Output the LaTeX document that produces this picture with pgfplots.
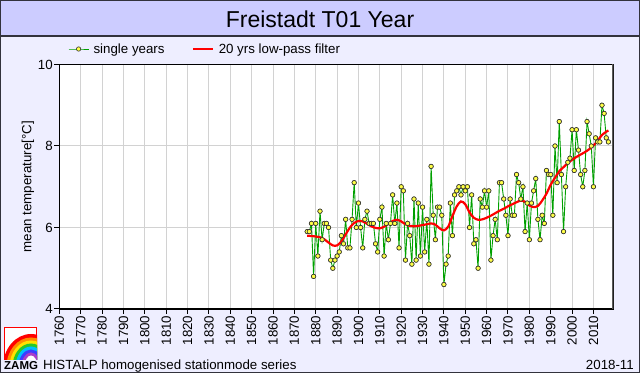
\documentclass[border=0pt]{standalone}
\usepackage{pgfplots}
\pgfplotsset{compat=1.18}
\usepackage{pgfplotstable}
\usepackage{fontspec}
\setmainfont{Liberation Sans}
\definecolor{titlebg}{RGB}{204,204,255}
\definecolor{pagebg}{RGB}{238,238,255}
\definecolor{gridc}{RGB}{210,210,210}
\definecolor{lineg}{RGB}{0,160,0}
\definecolor{marky}{RGB}{255,255,70}
\definecolor{markd}{RGB}{50,50,50}
\definecolor{redc}{RGB}{255,0,0}
\definecolor{framec}{RGB}{50,50,60}
\definecolor{rightc}{RGB}{90,90,90}
\definecolor{rbOrange}{RGB}{255,140,0}
\definecolor{rbYellow}{RGB}{255,225,0}
\definecolor{rbGreen}{RGB}{40,200,40}
\definecolor{rbCyan}{RGB}{0,190,255}
\definecolor{rbBlue}{RGB}{60,60,255}
\definecolor{rbViolet}{RGB}{170,60,200}

\pgfplotstableread{
year t
1876 5.9
1877 5.9
1878 6.1
1879 4.8
1880 6.1
1881 5.3
1882 6.4
1883 5.7
1884 6.1
1885 6.1
1886 6.0
1887 5.2
1888 5.0
1889 5.2
1890 5.3
1891 5.4
1892 5.8
1893 5.6
1894 6.2
1895 5.5
1896 5.5
1897 6.2
1898 7.1
1899 6.0
1900 6.6
1901 6.0
1902 5.5
1903 6.2
1904 6.4
1905 6.1
1906 6.1
1907 6.1
1908 5.6
1909 5.4
1910 6.2
1911 6.5
1912 5.3
1913 6.1
1914 5.7
1915 6.1
1916 6.8
1917 6.1
1918 6.6
1919 5.5
1920 7.0
1921 6.9
1922 5.2
1923 6.1
1924 5.8
1925 5.1
1926 6.7
1927 5.2
1928 6.6
1929 5.3
1930 6.5
1931 5.4
1932 6.2
1933 5.1
1934 7.5
1935 6.3
1936 5.7
1937 6.5
1938 6.5
1939 6.3
1940 4.6
1941 5.1
1942 5.3
1943 6.6
1944 5.8
1945 6.8
1946 6.9
1947 7.0
1948 6.8
1949 7.0
1950 6.9
1951 7.0
1952 6.0
1953 6.8
1954 5.6
1955 5.7
1956 5.0
1957 6.7
1958 6.5
1959 6.9
1960 6.5
1961 6.9
1962 5.2
1963 5.8
1964 6.2
1965 5.7
1966 7.1
1967 7.1
1968 6.7
1969 6.3
1970 5.8
1971 6.7
1972 6.3
1973 6.3
1974 7.3
1975 7.1
1976 6.7
1977 7.0
1978 5.9
1979 6.6
1980 5.7
1981 6.6
1982 6.9
1983 7.2
1984 6.2
1985 5.7
1986 6.3
1987 6.1
1988 7.4
1989 7.3
1990 7.3
1991 6.3
1992 8.0
1993 7.1
1994 8.6
1995 7.3
1996 5.9
1997 7.0
1998 7.6
1999 7.7
2000 8.4
2001 7.4
2002 8.4
2003 7.9
2004 7.3
2005 7.0
2006 7.4
2007 8.6
2008 8.3
2009 8.0
2010 7.0
2011 8.2
2012 8.1
2013 8.1
2014 9.0
2015 8.8
2016 8.2
2017 8.1
}\single

\pgfplotstableread{
year t
1876 5.80
1878 5.79
1880 5.78
1882 5.76
1884 5.71
1886 5.63
1888 5.56
1890 5.56
1892 5.66
1894 5.83
1896 6.00
1898 6.11
1900 6.16
1902 6.15
1904 6.09
1906 6.03
1908 5.99
1910 5.98
1912 6.02
1914 6.09
1916 6.16
1918 6.19
1920 6.15
1922 6.08
1924 6.04
1926 6.03
1928 6.04
1930 6.06
1932 6.08
1934 6.10
1936 6.07
1938 5.98
1940 5.93
1942 6.02
1944 6.28
1946 6.52
1948 6.64
1950 6.57
1952 6.37
1954 6.24
1956 6.19
1958 6.20
1960 6.24
1962 6.29
1964 6.35
1966 6.41
1968 6.46
1970 6.52
1972 6.57
1974 6.62
1976 6.66
1978 6.63
1980 6.54
1982 6.50
1984 6.53
1986 6.66
1988 6.83
1990 7.05
1992 7.22
1994 7.38
1996 7.48
1998 7.58
2000 7.66
2002 7.73
2004 7.79
2006 7.85
2008 7.92
2010 8.01
2012 8.13
2014 8.27
2016 8.35
2017 8.38
}\lowpass

\newcommand{\txt}{\fontsize{13.3bp}{15bp}\selectfont}

\begin{document}
\begin{tikzpicture}
\begin{scope}[x=1bp,y=1bp]
\fill[pagebg] (0,0) rectangle (640,373);
\fill[titlebg] (0,337) rectangle (640,373);
\draw[framec, line width=1.2bp] (0,337) -- (640,337);
\draw[framec, line width=1.5bp] (0.75,0.75) rectangle (639.25,372.25);
\node[anchor=base, inner sep=0pt, font=\fontsize{23bp}{27bp}\selectfont] at (320,346) {Freistadt T01 Year};
% logo
\fill[white] (4,13) rectangle (37,46);
\begin{scope}
\clip (4,13) rectangle (37,46);
\fill[redc] (31,6) ellipse [x radius=28bp, y radius=33bp];
\fill[rbOrange] (31,6) ellipse [x radius=24.5bp, y radius=29.5bp];
\fill[rbYellow] (31,6) ellipse [x radius=21.5bp, y radius=26.5bp];
\fill[rbGreen] (31,6) ellipse [x radius=18.5bp, y radius=23.5bp];
\fill[rbCyan] (31,6) ellipse [x radius=15.5bp, y radius=20.5bp];
\fill[rbBlue] (31,6) ellipse [x radius=12.5bp, y radius=17.5bp];
\fill[rbViolet] (31,6) ellipse [x radius=9.5bp, y radius=14.5bp];
\fill[white] (31,6) ellipse [x radius=6.5bp, y radius=11.5bp];
\end{scope}
\draw[redc, line width=1bp] (4.5,13) -- (4.5,45.5) -- (36.5,45.5) -- (36.5,36);
\node[anchor=base west, inner sep=0pt, font=\bfseries\fontsize{11.5bp}{13bp}\selectfont] at (4,4) {ZAMG};
\node[anchor=base west, inner sep=0pt, font=\txt] at (43,4) {HISTALP homogenised stationmode series};
\node[anchor=base east, inner sep=0pt, font=\txt] at (634,4) {2018-11};
\end{scope}

\begin{axis}[
  at={(59.4bp,64bp)}, anchor=south west,
  scale only axis, width=553.9bp, height=244.5bp,
  xmin=1760, xmax=2019.3, ymin=4, ymax=10,
  xtick={1760,1770,...,2010}, ytick={4,6,8,10},
  scaled x ticks=false,
  xmajorgrids, ymajorgrids,
  major grid style={gridc, line width=1bp},
  axis background/.style={fill=white},
  axis line style={black, line width=1.2bp},
  tick align=outside, tick pos=left,
  major tick length=5bp,
  tick style={black, line width=1bp},
  tick label style={font=\txt, /pgf/number format/assume math mode=true},
  xticklabel style={rotate=90, anchor=east, inner sep=1.5bp, /pgf/number format/1000 sep={}},
  yticklabel style={inner sep=1.5bp},
  ylabel={mean temperature[°C]},
  ylabel style={font=\txt, at={(axis description cs:-0.0567,0.5)}, anchor=center},
  legend columns=2,
  legend style={at={(axis description cs:0.0155,1.0634)}, anchor=west, draw=none, fill=none,
    font=\txt, inner sep=0pt, nodes={inner sep=1.5bp},
    /tikz/every odd column/.append style={column sep=3bp},
    /tikz/every even column/.append style={column sep=26bp}},
  legend cell align=left,
  legend image code/.code={\draw[mark repeat=2, mark phase=2, #1] plot coordinates {(0bp,0bp) (10bp,0bp) (20bp,0bp)};},
]
\addplot[lineg, line width=0.9bp, mark=*, mark size=2.2bp,
  mark options={fill=marky, draw=markd, line width=0.6bp, solid}] table[x=year,y=t] {\single};
\addlegendentry{single years}
\addplot[redc, line width=2.2bp, smooth] table[x=year,y=t] {\lowpass};
\addlegendentry{20 yrs low-pass filter}
\addplot[only marks, mark=*, mark size=2.2bp,
  mark options={fill=marky, draw=markd, line width=0.6bp}, forget plot] table[x=year,y=t] {\single};
\draw[rightc, line width=2bp] (rel axis cs:1,0) -- (rel axis cs:1,1);
\end{axis}
\pgfresetboundingbox
\path[use as bounding box] (0,0) rectangle (640bp,373bp);
\end{tikzpicture}
\end{document}
